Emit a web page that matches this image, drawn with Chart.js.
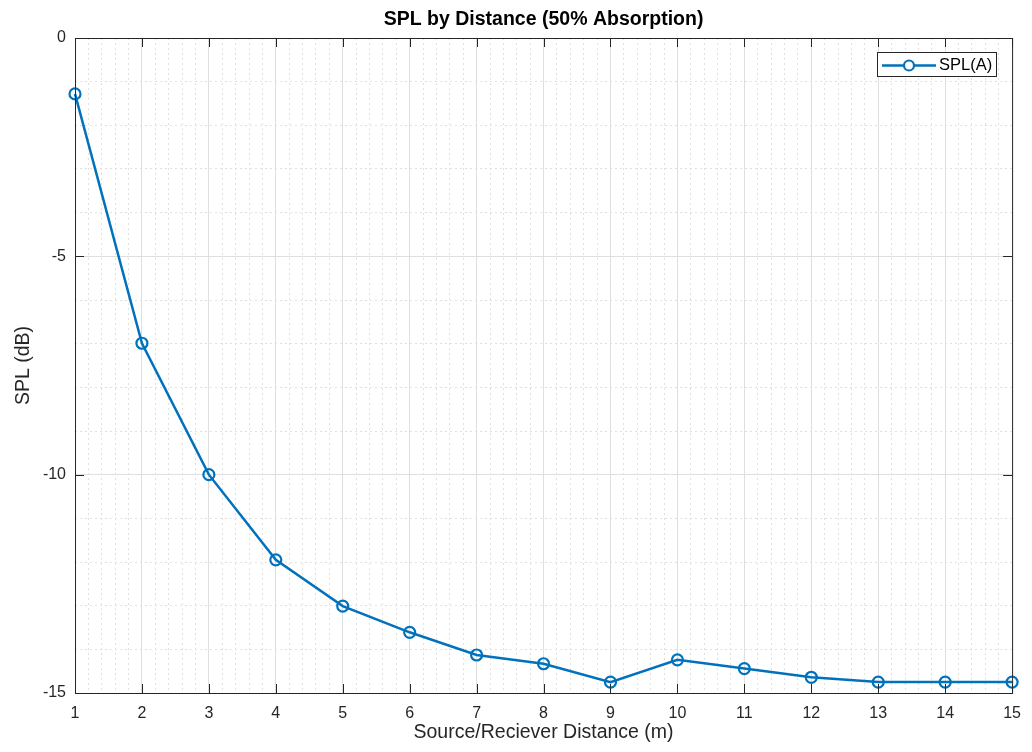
<!DOCTYPE html>
<html>
<head>
<meta charset="utf-8">
<title>SPL by Distance</title>
<script src="https://cdn.jsdelivr.net/npm/chart.js@4/dist/chart.umd.min.js"></script>
<style>
  html, body { margin: 0; padding: 0; background: #fff; }
</style>
</head>
<body>
<canvas id="chart" width="1032" height="752"></canvas>
<script>
// Data
const distances = [1, 2, 3, 4, 5, 6, 7, 8, 9, 10, 11, 12, 13, 14, 15];
const splValues = [-1.28, -6.99, -10.0, -11.95, -13.01, -13.61, -14.13, -14.33, -14.75, -14.24, -14.44, -14.64, -14.75, -14.75, -14.75];
const yTicks = [0, -5, -10, -15];
const seriesName = 'SPL(A)';

const lineColor = '#0072BD';
const axisColor = '#262626';
const font = "'Liberation Sans', Arial, Helvetica, sans-serif";

// box round the axes, inward tick marks and the legend inside the top-right corner
const boxPlugin = {
  id: 'box',
  afterDraw(chart) {
    const { ctx, chartArea: a, scales } = chart;
    ctx.save();
    ctx.strokeStyle = axisColor;
    ctx.lineWidth = 1;
    ctx.strokeRect(a.left + 0.5, a.top + 0.5, a.right - a.left, a.bottom - a.top);
    ctx.beginPath();
    distances.forEach(v => {
      const x = Math.round(scales.x.getPixelForValue(v)) + 0.5;
      ctx.moveTo(x, a.bottom); ctx.lineTo(x, a.bottom - 9);
      ctx.moveTo(x, a.top); ctx.lineTo(x, a.top + 9);
    });
    yTicks.forEach(v => {
      const y = Math.round(scales.y.getPixelForValue(v)) + 0.5;
      ctx.moveTo(a.left, y); ctx.lineTo(a.left + 9, y);
      ctx.moveTo(a.right, y); ctx.lineTo(a.right - 9, y);
    });
    ctx.stroke();

    // legend
    ctx.font = '16.5px ' + font;
    const tw = ctx.measureText(seriesName).width;
    const bw = Math.round(62 + tw + 4), bh = 24;
    const bx = Math.round(a.right - 16 - bw), by = Math.round(a.top + 14);
    ctx.fillStyle = '#fff';
    ctx.fillRect(bx, by, bw, bh);
    ctx.strokeStyle = axisColor;
    ctx.lineWidth = 1;
    ctx.strokeRect(bx + 0.5, by + 0.5, bw, bh);
    const cy = by + bh / 2 + 1.5;
    ctx.strokeStyle = lineColor;
    ctx.lineWidth = 2.5;
    ctx.beginPath(); ctx.moveTo(bx + 5, cy); ctx.lineTo(bx + 59, cy); ctx.stroke();
    ctx.lineWidth = 2.2;
    ctx.fillStyle = '#fff';
    ctx.beginPath(); ctx.arc(bx + 32, cy, 5, 0, Math.PI * 2); ctx.fill(); ctx.stroke();
    ctx.fillStyle = '#000';
    ctx.textBaseline = 'middle';
    ctx.textAlign = 'left';
    ctx.fillText(seriesName, bx + 62, cy);
    ctx.restore();
  }
};

new Chart(document.getElementById('chart'), {
  type: 'line',
  data: {
    datasets: [{
      label: seriesName,
      data: distances.map((d, i) => ({ x: d, y: splValues[i] })),
      borderColor: lineColor,
      backgroundColor: 'rgba(255,255,255,0)',
      borderWidth: 2.5,
      pointRadius: 5.5,
      pointBorderWidth: 2.2,
      pointHoverRadius: 5.5,
      pointStyle: 'circle',
      tension: 0,
      clip: 8
    }]
  },
  options: {
    responsive: false,
    animation: false,
    devicePixelRatio: 1,
    layout: { padding: { left: 0, right: 5, top: 0, bottom: 0 } },
    plugins: {
      title: {
        display: true,
        fullSize: false,
        text: 'SPL by Distance (50% Absorption)',
        color: '#000',
        font: { family: font, size: 19.5, weight: 'bold', lineHeight: 1.2 },
        padding: { top: 8, bottom: 6.6 }
      },
      legend: { display: false },
      tooltip: { enabled: false }
    },
    scales: {
      x: {
        type: 'linear',
        position: 'bottom',
        min: 1, max: 15,
        afterFit(s) { s.height = 59; },
        ticks: {
          stepSize: 1,
          autoSkip: false,
          color: axisColor,
          padding: 11,
          maxRotation: 0,
          font: { family: font, size: 16 }
        },
        grid: { color: '#dedede', lineWidth: 1, drawTicks: false },
        border: { display: false },
        title: {
          display: true,
          text: 'Source/Reciever Distance (m)',
          color: axisColor,
          font: { family: font, size: 19.5 },
          padding: { top: 0, bottom: 8 }
        }
      },
      xMinor: {
        type: 'linear',
        position: 'bottom',
        min: 1, max: 15,
        afterFit(s) { s.height = 0; },
        ticks: { stepSize: 0.2, autoSkip: false, display: false },
        grid: { color: '#e0e0e0', lineWidth: 1, drawTicks: false },
        border: { display: false, dash: [2, 3] }
      },
      y: {
        type: 'linear',
        position: 'left',
        min: -15, max: 0,
        afterFit(s) { s.width = 75; },
        ticks: {
          stepSize: 5,
          autoSkip: false,
          color: axisColor,
          padding: 9,
          font: { family: font, size: 16 }
        },
        grid: { color: '#dedede', lineWidth: 1, drawTicks: false },
        border: { display: false },
        title: {
          display: true,
          text: 'SPL (dB)',
          color: axisColor,
          font: { family: font, size: 19.5 },
          padding: { top: 12, bottom: 0 }
        }
      },
      yMinor: {
        type: 'linear',
        position: 'left',
        min: -15, max: 0,
        afterFit(s) { s.width = 0; },
        ticks: { stepSize: 1, autoSkip: false, display: false },
        grid: { color: '#e0e0e0', lineWidth: 1, drawTicks: false },
        border: { display: false, dash: [2, 3] }
      }
    }
  },
  plugins: [boxPlugin]
});
</script>
</body>
</html>
